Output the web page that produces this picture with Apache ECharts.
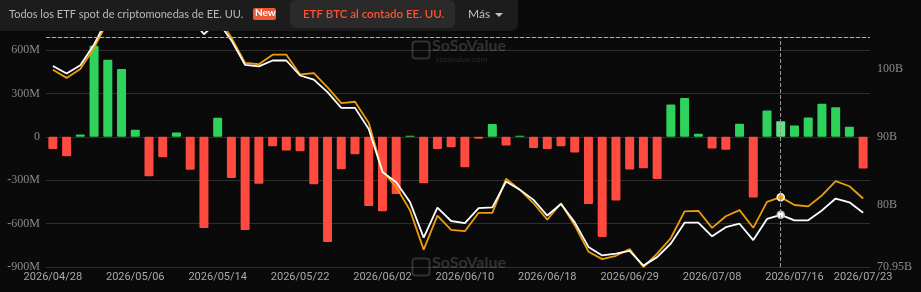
<!DOCTYPE html>
<html>
<head>
<meta charset="utf-8">
<title>ETF BTC al contado EE. UU.</title>
<script src="https://cdn.jsdelivr.net/npm/echarts@6/dist/echarts.min.js"></script>
<style>
	html, body { margin: 0; padding: 0; background: #0a0a0a; }
	#chart { width: 921px; height: 292px; }
</style>
</head>
<body>
<div id="chart"></div>
<script>
var dates = [
	'2026/04/28', '2026/04/29', '2026/04/30', '2026/05/01', '2026/05/04', '2026/05/05', '2026/05/06', '2026/05/07', '2026/05/08', '2026/05/11',
	'2026/05/12', '2026/05/13', '2026/05/14', '2026/05/15', '2026/05/18', '2026/05/19', '2026/05/20', '2026/05/21', '2026/05/22', '2026/05/26',
	'2026/05/27', '2026/05/28', '2026/05/29', '2026/06/01', '2026/06/02', '2026/06/03', '2026/06/04', '2026/06/05', '2026/06/08', '2026/06/09',
	'2026/06/10', '2026/06/11', '2026/06/12', '2026/06/15', '2026/06/16', '2026/06/17', '2026/06/18', '2026/06/22', '2026/06/23', '2026/06/24',
	'2026/06/25', '2026/06/26', '2026/06/29', '2026/06/30', '2026/07/01', '2026/07/02', '2026/07/06', '2026/07/07', '2026/07/08', '2026/07/09',
	'2026/07/10', '2026/07/13', '2026/07/14', '2026/07/15', '2026/07/16', '2026/07/17', '2026/07/20', '2026/07/21', '2026/07/22', '2026/07/23'
];

// entrada neta diaria, millones USD
var netInflow = [
	-85, -134, 16, 630, 533, 469, 48, -272, -141, 30,
	-228, -630, 132, -284, -644, -325, -65, -95, -99, -328,
	-727, -224, -120, -478, -515, -395, 7, -321, -85, -72,
	-210, -14, 88, -60, 8, -78, -85, -65, -108, -464,
	-692, -441, -226, -217, -291, 224, 268, 21, -81, -90,
	90, -420, 182, 108, 78, 134, 228, 205, 69, -219
];

// miles de millones USD
var whiteSeries = [
	100.45, 99.35, 100.55, 103.6, 107.5, 109.2, 110.5, 108.6, 108.2, 109.0,
	107.6, 105.1, 107.0, 104.2, 100.6, 100.4, 101.25, 101.25, 99.05, 98.45,
	96.6, 94.3, 94.3, 91.2, 84.9, 83.4, 80.5, 75.25, 79.65, 77.7,
	77.4, 79.6, 79.7, 83.5, 82.3, 80.8, 78.5, 80.2, 77.5, 73.9,
	72.65, 72.9, 73.3, 71.15, 72.4, 74.4, 77.45, 77.45, 75.45, 76.8,
	77.3, 74.9, 78.0, 78.6, 77.8, 77.8, 79.25, 81.0, 80.45, 78.9
];

var orangeSeries = [
	99.9, 98.7, 100.0, 103.1, 107.0, 109.0, 110.8, 109.0, 108.6, 109.8,
	108.5, 106.0, 107.8, 104.6, 100.9, 100.7, 102.1, 102.1, 99.2, 99.4,
	97.3, 95.0, 95.2, 92.1, 85.0, 82.7, 79.3, 73.5, 78.5, 76.4,
	76.2, 78.9, 78.9, 83.9, 82.3, 80.3, 77.9, 80.3, 77.05, 73.2,
	72.1, 72.6, 73.6, 70.95, 72.9, 75.2, 79.1, 79.2, 76.7, 78.4,
	79.3, 76.7, 80.5, 81.2, 80.05, 79.85, 81.45, 83.55, 82.8, 81.0
];

var hoverIndex = 53;

var myChart;

window.onload = function() {
	initChart();
};

function barData() {
	return netInflow.map(function(v, i) {
		var color = v >= 0 ? '#2fd35c' : '#ff4a3f';
		if (i === hoverIndex) {
			color = '#62e184';
		}
		return { value: v, itemStyle: { color: color } };
	});
}

function lineData(arr, fill, border) {
	return arr.map(function(v, i) {
		if (i === hoverIndex) {
			return {
				value: v,
				symbol: 'circle',
				symbolSize: 7,
				itemStyle: { color: fill, borderColor: border, borderWidth: 1.5 }
			};
		}
		return { value: v, symbol: 'none' };
	});
}

function initChart() {
	myChart = echarts.init(document.getElementById('chart'));
	var option = {
		backgroundColor: '#0a0a0a',
		animation: false,
		grid: {
			left: 46,
			right: 51,
			top: 37,
			bottom: 25
		},
		xAxis: {
			type: 'category',
			data: dates,
			axisLine: { show: false },
			axisTick: { show: false },
			axisLabel: {
				color: '#a8a8a8',
				fontFamily: 'Roboto',
				fontSize: 11,
				margin: 5,
				interval: function(idx) {
					return idx % 6 === 0 || idx === dates.length - 1;
				}
			},
			axisPointer: {
				show: true,
				type: 'line',
				value: hoverIndex,
				status: 'show',
				triggerTooltip: false,
				label: { show: false },
				lineStyle: { color: '#9a9a9a', type: 'dashed', width: 1 }
			}
		},
		yAxis: [{
			type: 'value',
			min: -900,
			max: 690,
			interval: 300,
			axisLine: { show: false },
			axisTick: { show: false },
			splitLine: { lineStyle: { color: '#2e2e2e', width: 1 } },
			axisLabel: {
				color: '#8a8a8a',
				fontFamily: 'Liberation Serif',
				fontSize: 12,
				margin: 6,
				showMaxLabel: false,
				formatter: function(v) {
					return v === 0 ? '0' : v + 'M';
				}
			}
		}, {
			type: 'value',
			min: 70.95,
			max: 104.7,
			splitNumber: 3,
			position: 'right',
			axisLine: { show: false },
			axisTick: { show: false },
			splitLine: { show: false },
			axisLabel: {
				color: '#8a8a8a',
				fontFamily: 'Liberation Serif',
				fontSize: 12,
				margin: 7,
				showMaxLabel: false,
				formatter: function(v) {
					return v + 'B';
				}
			}
		}],
		series: [{
			name: 'Entrada neta diaria',
			type: 'bar',
			barWidth: 9,
			data: barData(),
			itemStyle: { borderRadius: 1 },
			markLine: {
				silent: true,
				symbol: 'none',
				label: { show: false },
				lineStyle: { color: '#b0b0b0', type: 'dashed', width: 1 },
				data: [{ yAxis: 690 }]
			}
		}, {
			name: 'Precio BTC',
			type: 'line',
			yAxisIndex: 1,
			clip: false,
			showSymbol: true,
			data: lineData(orangeSeries, '#f0a010', '#ffffff'),
			lineStyle: { color: '#eb9d0c', width: 1.8 },
			itemStyle: { color: '#eb9d0c' },
			z: 3
		}, {
			name: 'Activos netos totales',
			type: 'line',
			yAxisIndex: 1,
			clip: false,
			showSymbol: true,
			data: lineData(whiteSeries, '#ffffff', '#bdbdbd'),
			lineStyle: { color: '#ffffff', width: 1.8 },
			itemStyle: { color: '#ffffff' },
			z: 4
		}],
		graphic: [
			// marca de agua
			{
				type: 'text', left: 432, top: 38, z: 1, silent: true,
				style: { text: 'SoSoValue', fill: 'rgba(255,255,255,0.16)', font: 'bold 16px Lato' }
			}, {
				type: 'text', left: 436, top: 55, z: 1, silent: true,
				style: { text: 'sosovalue.com', fill: 'rgba(255,255,255,0.12)', font: '8px Lato' }
			}, {
				type: 'rect', left: 410, top: 39, z: 1, silent: true,
				shape: { width: 17, height: 17, r: 3 },
				style: { fill: 'none', stroke: 'rgba(255,255,255,0.16)', lineWidth: 2 }
			}, {
				type: 'text', left: 432, top: 255, z: 1, silent: true,
				style: { text: 'SoSoValue', fill: 'rgba(255,255,255,0.16)', font: 'bold 16px Lato' }
			}, {
				type: 'rect', left: 410, top: 256, z: 1, silent: true,
				shape: { width: 17, height: 17, r: 3 },
				style: { fill: 'none', stroke: 'rgba(255,255,255,0.16)', lineWidth: 2 }
			},
			// barra de pestañas
			{
				type: 'rect', left: 0, top: 0, z: 100, silent: true,
				shape: { width: 518, height: 31, r: [0, 0, 8, 0] },
				style: { fill: '#1c1c1c' }
			}, {
				type: 'text', left: 9, top: 9, z: 101, silent: true,
				style: { text: 'Todos los ETF spot de criptomonedas de EE. UU.', fill: '#b9b9b9', font: '11px Lato' }
			}, {
				type: 'rect', left: 253, top: 8, z: 101, silent: true,
				shape: { width: 23, height: 12, r: 2 },
				style: { fill: '#ea5a36' }
			}, {
				type: 'text', left: 255, top: 8, z: 102, silent: true,
				style: { text: 'New', fill: '#ffffff', font: 'bold 10px Lato' }
			}, {
				type: 'rect', left: 290, top: 0, z: 101, silent: true,
				shape: { width: 165, height: 28, r: 6 },
				style: { fill: '#2a2a2a' }
			}, {
				type: 'text', left: 303, top: 8, z: 102, silent: true,
				style: { text: 'ETF BTC al contado EE. UU.', fill: '#ff5330', font: '600 11.5px Lato' }
			}, {
				type: 'text', left: 468, top: 8, z: 101, silent: true,
				style: { text: 'Más', fill: '#c0c0c0', font: '12px Lato' }
			}, {
				type: 'polygon', z: 101, silent: true,
				shape: { points: [[495, 13], [503, 13], [499, 17]] },
				style: { fill: '#c0c0c0' }
			}
		]
	};
	myChart.setOption(option);
}
</script>
</body>
</html>
